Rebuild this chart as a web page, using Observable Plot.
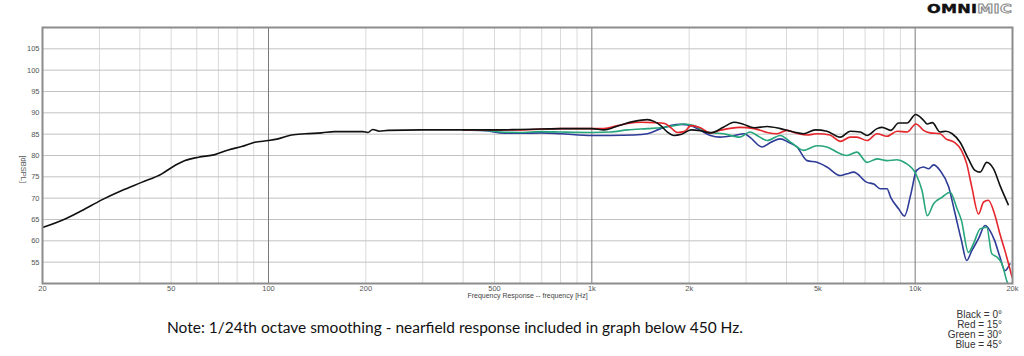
<!DOCTYPE html>
<html><head><meta charset="utf-8">
<script src="https://cdn.jsdelivr.net/npm/d3@7"></script>
<script src="https://cdn.jsdelivr.net/npm/@observablehq/plot@0.6"></script>
<style>
body{margin:0;background:#fff}
#wrap{position:relative;width:1024px;height:356px;overflow:hidden;background:#fff}
#chart{position:absolute;left:0;top:0}
#logo{position:absolute;left:927px;top:2px;font-family:'DejaVu Sans',sans-serif;font-weight:bold;font-size:11.5px;line-height:15px;transform:scaleX(1.4);transform-origin:left top;white-space:nowrap;letter-spacing:0.2px}
#logo .omni{color:#111;-webkit-text-stroke:0.4px #111}
#logo .mic{color:#fff;-webkit-text-stroke:0.9px #8a8a8a}
#note{position:absolute;left:167px;top:318px;font-family:Lato,sans-serif;font-size:15.5px;color:#111;white-space:nowrap}
#legend{position:absolute;right:22px;top:310px;text-align:right;font-family:'Liberation Sans',Arial,sans-serif;font-size:10px;line-height:10px;color:#333;white-space:nowrap}
</style></head><body>
<div id="wrap">
<div id="chart"></div>
<div id="logo"><span class="omni">OMNI</span><span class="mic">MIC</span></div>
<div id="note"></div>
<div id="legend"></div>
</div>
<script>
// ---- data ----
const freqBlack = [20,23.5,26.5,30.5,35.2,40.5,46.8,50.2,55.2,60.7,68.3,75.1,82.6,90.7,100,107,117.8,130,146,160,184,196,203,210,220,234,297,400,500,600,700,802,1000,1091,1173,1259,1352,1486,1557,1634,1713,1796,1883,2027,2166,2326,2552,2752,2926,3180,3484,3828,4209,4519,4909,5334,5869,6300,6764,7100,7623,7900,8400,8890,9440,10030,10600,10900,11300,11940,12450,13020,13770,14610,15320,15880,16650,17460,18290,19400];
const dbBlack = [63.1,65.1,67.1,69.6,71.8,73.7,75.7,77.2,78.8,79.6,80.2,81.3,82.1,83.1,83.5,83.9,84.8,85.1,85.3,85.6,85.6,85.6,85.4,86.1,85.7,85.9,86.0,86.0,86.0,86.1,86.2,86.3,86.3,86.0,86.6,87.4,88.0,88.4,88.0,87.0,85.5,84.7,84.9,86.0,85.8,85.3,86.6,87.8,87.4,86.5,86.8,86.3,85.5,85.1,86.0,85.7,84.3,85.7,85.5,84.7,86.3,86.6,85.9,87.6,87.6,89.6,88.3,87.4,87.7,85.5,85.7,85.1,83.1,79.2,76.5,76.1,78.4,76.9,73.0,68.5];

const freqRed = [400,500,600,700,802,1000,1091,1200,1290,1420,1557,1680,1750,1840,1930,2027,2166,2326,2495,2867,3180,3484,3740,4010,4310,4630,4970,5450,5869,6300,6600,7100,7623,8180,8800,9440,10060,10610,11120,11940,12450,13220,13900,14430,14970,15700,16280,16840,17600,18290,18950,19930];
const dbRed = [86.0,86.0,86.0,86.2,86.3,86.3,86.3,87.0,87.5,87.8,87.7,87.5,86.6,85.4,85.6,87.0,86.5,85.3,85.9,86.6,86.3,85.4,85.1,85.9,85.2,84.8,85.1,84.8,83.3,84.3,84.3,83.5,85.1,84.5,85.7,85.5,87.4,85.9,85.3,85.1,83.9,83.1,81.2,78.1,72.6,66.3,69.1,69.5,66.3,61.6,57.7,51.5];

const freqGreen = [400,470,520,600,700,802,1000,1140,1290,1486,1634,1796,1930,2070,2270,2385,2552,2867,3080,3308,3484,3828,4060,4310,4519,4970,5334,5869,6150,6600,7100,7623,8180,8780,9300,10060,10500,10900,11400,12100,12830,13480,13900,14610,15140,15880,16650,17250,17900,18560,19270,19700];
const dbGreen = [86.0,85.9,85.5,85.4,85.6,85.5,85.4,85.5,86.0,86.3,86.5,87.0,87.4,87.0,85.5,85.3,85.1,84.3,85.5,84.3,83.5,84.7,83.5,82.0,81.2,82.3,82.0,80.4,80.0,80.8,78.4,79.2,78.8,79.0,78.3,75.6,71.8,65.9,68.7,70.2,71.4,67.5,64.8,57.3,59.3,62.8,63.2,57.0,56.2,54.6,50.3,49.0];

const freqBlue = [400,470,520,600,700,802,1000,1140,1350,1486,1634,1750,1883,2027,2166,2326,2495,2752,2960,3080,3360,3580,3828,4060,4310,4630,4970,5334,5869,6150,6450,7100,7450,7800,8180,8400,8890,9270,9700,10100,10600,11010,11400,11940,12700,13220,13900,14430,14970,15700,16450,17030,17600,18290,18950,19640];
const dbBlue = [86.0,85.8,85.3,85.2,85.3,85.1,84.7,84.7,84.8,85.1,86.3,87.0,87.3,87.0,85.9,84.7,84.3,84.7,85.1,84.3,82.0,83.1,83.9,83.1,82.0,78.8,78.4,77.3,75.3,75.7,76.1,73.7,73.3,72.2,72.2,70.2,67.5,65.8,71.0,76.5,77.3,76.9,77.8,76.5,72.6,67.1,60.1,55.4,57.7,60.5,63.6,62.4,60.1,56.2,53.0,54.6];

const seriesNames = ["45 deg","30 deg","15 deg","0 deg"];
const seriesColors = ["#2e3b97","#27a57c","#e5262b","#111111"];

const xTickValues = [20,50,100,200,500,1000,2000,5000,10000,20000];
const xTickLabels = ["20","50","100","200","500","1k","2k","5k","10k","20k"];
const yTicks = [55,60,65,70,75,80,85,90,95,100,105];
const majorX = [100,1000,10000];
const gridMultipliers = [2,3,4,5,6,7,8,9];
const gridDecades = [10,100,1000,10000];

const yLabel = "[dBSPL]";
const xLabel = "Frequency Response -- frequency [Hz]";
const noteText = "Note: 1/24th octave smoothing - nearfield response included in graph below 450 Hz.";
const legendLines = ["Black = 0°","Red = 15°","Green = 30°","Blue = 45°"];

// ---- build ----
const seriesData = [
  [freqBlue, dbBlue],
  [freqGreen, dbGreen],
  [freqRed, dbRed],
  [freqBlack, dbBlack]
];
const rows = [];
seriesNames.forEach((name, k) => {
  const [fs, ds] = seriesData[k];
  fs.forEach((f, i) => rows.push({series: name, f, db: ds[i]}));
});
const minorX = [];
for (const d of gridDecades) for (const m of gridMultipliers) {
  const v = d * m;
  if (v > 20 && v < 20000) minorX.push(v);
}
const xTicks = xTickValues.map((v, i) => ({v, label: xTickLabels[i]}));

const chart = Plot.plot({
  width: 1024, height: 310,
  marginTop: 27, marginBottom: 27, marginLeft: 42, marginRight: 12,
  style: {fontFamily: "'Liberation Sans', Arial, sans-serif", fontSize: "7.5px", color: "#555", background: "transparent"},
  x: {type: "log", domain: [20, 20000], axis: null},
  y: {domain: [50, 110], axis: null},
  color: {domain: seriesNames, range: seriesColors},
  marks: [
    Plot.ruleX(minorX, {stroke: "#dadada", strokeWidth: 1}),
    Plot.ruleY(yTicks, {stroke: "#c2c2c2", strokeWidth: 1}),
    Plot.ruleX(majorX, {stroke: "#7a7a7a", strokeWidth: 1}),
    Plot.line(rows, {x: "f", y: "db", z: "series", stroke: "series", strokeWidth: 1.6, curve: "monotone-x", clip: true}),
    Plot.frame({stroke: "#8c8c8c", strokeWidth: 2}),
    Plot.text(xTicks, {x: "v", text: "label", frameAnchor: "bottom", dy: 7, fill: "#555", fontSize: 7.5}),
    Plot.text(yTicks, {y: d => d, text: d => String(d), frameAnchor: "left", dx: -3, textAnchor: "end", fill: "#555", fontSize: 7.5}),
    Plot.text([yLabel], {text: d => d, frameAnchor: "left", dx: -19, rotate: 90, fill: "#555", fontSize: 7.5}),
    Plot.text([xLabel], {text: d => d, frameAnchor: "bottom", dy: 14, fill: "#444", fontSize: 7})
  ]
});
document.getElementById("chart").appendChild(chart);
document.getElementById("note").textContent = noteText;
document.getElementById("legend").innerHTML = legendLines.join("<br>");
</script>
</body></html>
